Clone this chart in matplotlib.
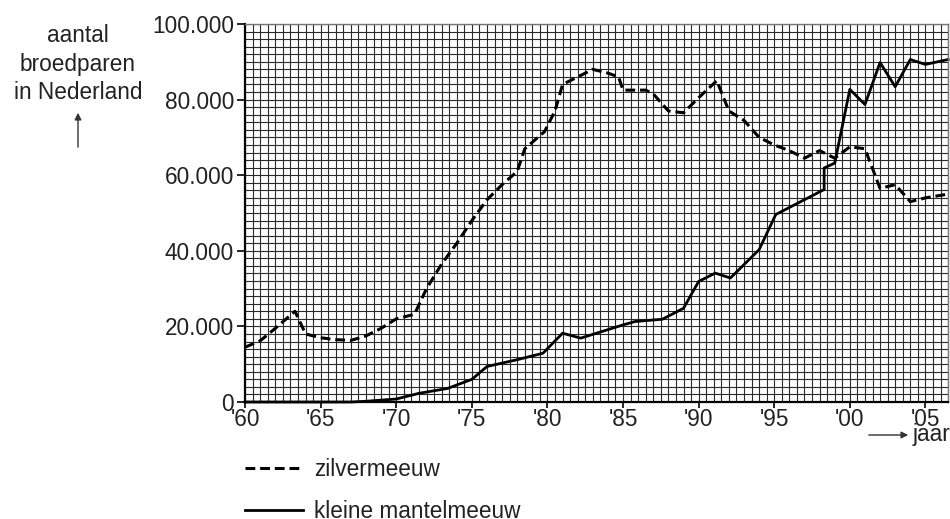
import matplotlib
matplotlib.use("Agg")
import matplotlib.pyplot as plt
import numpy as np

plt.rcParams['font.family'] = ['Liberation Sans', 'DejaVu Sans']

# zilvermeeuw (dashed)
zilver_jaar = [1960, 1961, 1962, 1963.3, 1964, 1965, 1966, 1967, 1968, 1969,
               1970, 1971.2, 1972, 1973, 1974, 1975, 1976, 1977, 1978, 1978.5,
               1979.8, 1980.5, 1981, 1982, 1983, 1984, 1984.7, 1985, 1986.5, 1987,
               1988, 1989, 1990, 1991.2, 1992, 1993, 1994, 1995, 1996, 1997,
               1998, 1999, 2000, 2001, 2002, 2003, 2004, 2005, 2006.5]
zilver_aantal = [14500, 16200, 19500, 24000, 18000, 17000, 16500, 16300, 17500, 19500,
                 22000, 23200, 30000, 36500, 42000, 48000, 53500, 57500, 61000, 67000,
                 71500, 77000, 84000, 86000, 88000, 87000, 86000, 82500, 82500, 81500,
                 77000, 76500, 80500, 85000, 77000, 74500, 70000, 68000, 66500, 64500,
                 66500, 64500, 67500, 67000, 56500, 57500, 53000, 54000, 55000]

# kleine mantelmeeuw (solid)
mantel_jaar = [1960, 1967, 1968, 1970, 1971.5, 1973.4, 1975, 1976, 1978, 1979.7,
               1981, 1982.2, 1985, 1985.8, 1987.6, 1989, 1990, 1991.1, 1992.1, 1994,
               1995.1, 1998.3, 1998.3, 1999, 2000, 2001, 2002, 2003, 2004, 2005, 2006.5]
mantel_aantal = [0, 0, 200, 800, 2300, 3600, 6000, 9400, 11200, 12900,
                 18200, 16900, 20400, 21300, 21900, 24800, 31900, 34100, 32800, 40300,
                 49600, 56200, 61900, 63200, 82700, 78700, 89800, 83400, 90600, 89300, 90600]

x_ticks = [1960, 1965, 1970, 1975, 1980, 1985, 1990, 1995, 2000, 2005]
x_labels = ["'60", "'65", "'70", "'75", "'80", "'85", "'90", "'95", "'00", "'05"]
y_ticks = [0, 20000, 40000, 60000, 80000, 100000]
y_labels = ['0', '20.000', '40.000', '60.000', '80.000', '100.000']

fs = 16.3
tc = '#222222'
fig = plt.figure(figsize=(9.5, 5.19), dpi=100)
ax = fig.add_axes([0.258, 0.2254, 0.740, 0.7284])

ax.set_xlim(1960, 2006.5)
ax.set_ylim(0, 100000)

ax.set_xticks(np.arange(1960, 2006.6, 0.5), minor=True)
ax.set_yticks(np.arange(0, 100001, 2000), minor=True)
ax.set_xticks(x_ticks)
ax.set_xticklabels(x_labels, fontsize=fs, color=tc)
ax.set_yticks(y_ticks)
ax.set_yticklabels(y_labels, fontsize=fs, color=tc)
ax.tick_params(which='minor', length=0)
ax.tick_params(axis='x', which='major', length=4, width=1.2, direction='out', pad=0)
ax.tick_params(axis='y', which='major', length=6, width=1.2, direction='out', pad=2)
ax.grid(which='both', color='#2a2a2a', linewidth=0.8)
ax.set_axisbelow(True)

for s in ['top', 'right']:
    ax.spines[s].set_color('#777777')
    ax.spines[s].set_linewidth(1)
for s in ['left', 'bottom']:
    ax.spines[s].set_color('black')
    ax.spines[s].set_linewidth(1.6)

ax.plot(zilver_jaar, zilver_aantal, color='black', linewidth=2.2,
        linestyle=(0, (3.2, 1.6)), label='zilvermeeuw', clip_on=False)
ax.plot(mantel_jaar, mantel_aantal, color='black', linewidth=2.0,
        label='kleine mantelmeeuw', clip_on=False)

# y-as titel met pijl
fig.text(78 / 950, 1 - 64 / 519, 'aantal\nbroedparen\nin Nederland', ha='center', va='center',
         fontsize=fs, color=tc, linespacing=1.32)
fig.add_artist(matplotlib.patches.FancyArrowPatch((78 / 950, 1 - 150 / 519), (78 / 950, 1 - 110 / 519),
                                                  transform=fig.transFigure, arrowstyle='-|>',
                                                  mutation_scale=10, color='#333333', linewidth=1))

# x-as titel met pijl
fig.text(950 / 950, 1 - 434 / 519, 'jaar', ha='right', va='center', fontsize=fs, color=tc)
fig.add_artist(matplotlib.patches.FancyArrowPatch((866 / 950, 1 - 435 / 519), (911 / 950, 1 - 435 / 519),
                                                  transform=fig.transFigure, arrowstyle='-|>',
                                                  mutation_scale=10, color='#333333', linewidth=1))

# legenda
leg = fig.legend(loc='upper left', bbox_to_anchor=(236 / 950, 1 - 449 / 519), frameon=False,
                 fontsize=fs, handlelength=2.55, handletextpad=0.5, labelspacing=0.85,
                 borderaxespad=0, labelcolor=tc)

fig.savefig('out.png', dpi=100)
